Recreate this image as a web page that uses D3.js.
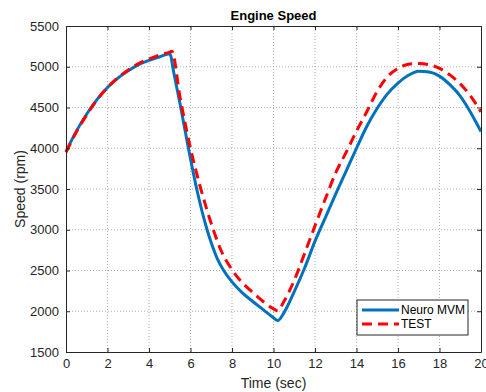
<!DOCTYPE html>
<meta charset="utf-8">
<title>Engine Speed</title>
<style>
body { margin: 0; background: #fff; }
svg { font-family: "Liberation Sans", Arial, sans-serif; }
.grid line { stroke: #b0b0b0; stroke-width: 1; stroke-dasharray: 1,2; }
.axis path, .axis line { stroke: #262626; }
.axis text { font-size: 13px; fill: #262626; }
</style>
<script src="https://d3js.org/d3.v7.min.js"></script>
<body>
<script>

var width = 486, height = 392;
var margin = {top: 26, right: 5, bottom: 40, left: 66};

// time (sec) and speed (rpm)
var mvmTime  = [0, 0.5, 1, 1.5, 2, 2.5, 3, 3.5, 4, 4.5, 5, 5.2, 5.5, 5.9, 6.3, 6.8, 7, 7.3, 7.6, 8, 8.5, 9, 9.5, 10, 10.2, 10.5, 11, 11.5, 12, 12.5, 13, 13.5, 14, 14.5, 15, 15.5, 16, 16.5, 17, 17.5, 18, 18.5, 19, 19.5, 20];
var mvmSpeed = [3960, 4210, 4420, 4600, 4745, 4860, 4950, 5025, 5078, 5120, 5160, 4920, 4540, 4000, 3500, 3000, 2840, 2640, 2500, 2360, 2225, 2120, 2020, 1920, 1885, 1980, 2240, 2530, 2860, 3150, 3440, 3720, 4000, 4270, 4490, 4670, 4800, 4895, 4945, 4935, 4885, 4780, 4640, 4440, 4205];

var testTime  = [0, 0.5, 1, 1.5, 2, 2.5, 3, 3.5, 4, 4.5, 5, 5.1, 5.5, 6, 6.5, 7.1, 7.5, 8, 8.5, 9, 9.5, 10, 10.2, 10.5, 11, 11.5, 12, 12.5, 13, 13.5, 14, 14.5, 15, 15.5, 16, 16.5, 17, 17.5, 18, 18.5, 19, 19.5, 20];
var testSpeed = [3950, 4200, 4410, 4595, 4745, 4865, 4960, 5040, 5095, 5145, 5180, 5190, 4620, 4000, 3500, 3000, 2730, 2510, 2350, 2230, 2120, 2030, 2005, 2120, 2380, 2710, 3050, 3380, 3700, 3950, 4210, 4450, 4700, 4880, 4980, 5030, 5040, 5025, 4980, 4900, 4790, 4640, 4445];

var xTicks = [0, 2, 4, 6, 8, 10, 12, 14, 16, 18, 20];
var yTicks = [1500, 2000, 2500, 3000, 3500, 4000, 4500, 5000, 5500];

var seriesNames = ["Neuro MVM", "TEST"];

var svg = d3.select("body").append("svg")
    .attr("width", width)
    .attr("height", height);

var w = width - margin.left - margin.right,
    h = height - margin.top - margin.bottom;

var x = d3.scaleLinear().domain([0, 20]).range([margin.left, margin.left + w]);
var y = d3.scaleLinear().domain([1500, 5500]).range([margin.top + h, margin.top]);

// grid
var grid = svg.append("g").attr("class", "grid");
grid.selectAll(".gx").data(xTicks.slice(1, -1)).enter().append("line")
    .attr("x1", d => x(d)).attr("x2", d => x(d))
    .attr("y1", y(1500)).attr("y2", y(5500));
grid.selectAll(".gy").data(yTicks.slice(1, -1)).enter().append("line")
    .attr("y1", d => y(d)).attr("y2", d => y(d))
    .attr("x1", x(0)).attr("x2", x(20));

// lines
var line = d3.line().curve(d3.curveMonotoneX);

svg.append("path")
    .datum(mvmTime.map((t, i) => [x(t), y(mvmSpeed[i])]))
    .attr("d", line)
    .attr("fill", "none")
    .attr("stroke", "#0072BD")
    .attr("stroke-width", 3);

svg.append("path")
    .datum(testTime.map((t, i) => [x(t), y(testSpeed[i])]))
    .attr("d", line)
    .attr("fill", "none")
    .attr("stroke", "#FF0000")
    .attr("stroke-width", 3)
    .attr("stroke-dasharray", "10,6");

// axes (MATLAB style, ticks inward on all sides)
var fmt = d3.format("d");
svg.append("g").attr("class", "axis")
    .attr("transform", "translate(0," + y(1500) + ")")
    .call(d3.axisBottom(x).tickValues(xTicks).tickFormat(fmt).tickSize(-4).tickPadding(7).tickSizeOuter(0));
svg.append("g").attr("class", "axis")
    .attr("transform", "translate(0," + y(5500) + ")")
    .call(d3.axisTop(x).tickValues(xTicks).tickSize(-4).tickFormat("").tickSizeOuter(0));
svg.append("g").attr("class", "axis")
    .attr("transform", "translate(" + x(0) + ",0)")
    .call(d3.axisLeft(y).tickValues(yTicks).tickFormat(fmt).tickSize(-4).tickPadding(7).tickSizeOuter(0));
svg.append("g").attr("class", "axis")
    .attr("transform", "translate(" + x(20) + ",0)")
    .call(d3.axisRight(y).tickValues(yTicks).tickSize(-4).tickFormat("").tickSizeOuter(0));

// title & labels
svg.append("text")
    .attr("x", x(10)).attr("y", 20)
    .attr("text-anchor", "middle")
    .style("font-size", "13px").style("font-weight", "bold")
    .text("Engine Speed");

svg.append("text")
    .attr("x", x(10)).attr("y", 388)
    .attr("text-anchor", "middle")
    .style("font-size", "14px").attr("fill", "#262626")
    .text("Time (sec)");

svg.append("text")
    .attr("transform", "translate(25," + y(3500) + ") rotate(-90)")
    .attr("text-anchor", "middle")
    .style("font-size", "14px").attr("fill", "#262626")
    .text("Speed (rpm)");

// legend
var lg = svg.append("g").attr("transform", "translate(357,300)");
lg.append("rect")
    .attr("width", 111).attr("height", 35)
    .attr("fill", "#fff").attr("stroke", "#262626");
var styles = [{c: "#0072BD", dash: null}, {c: "#FF0000", dash: "10,6"}];
seriesNames.forEach(function(name, i) {
  var yy = 10 + i * 14;
  lg.append("line")
      .attr("x1", 5).attr("x2", 42).attr("y1", yy).attr("y2", yy)
      .attr("stroke", styles[i].c).attr("stroke-width", 3)
      .attr("stroke-dasharray", styles[i].dash);
  lg.append("text")
      .attr("x", 44).attr("y", yy + 4)
      .style("font-size", "12px")
      .text(name);
});

</script>
